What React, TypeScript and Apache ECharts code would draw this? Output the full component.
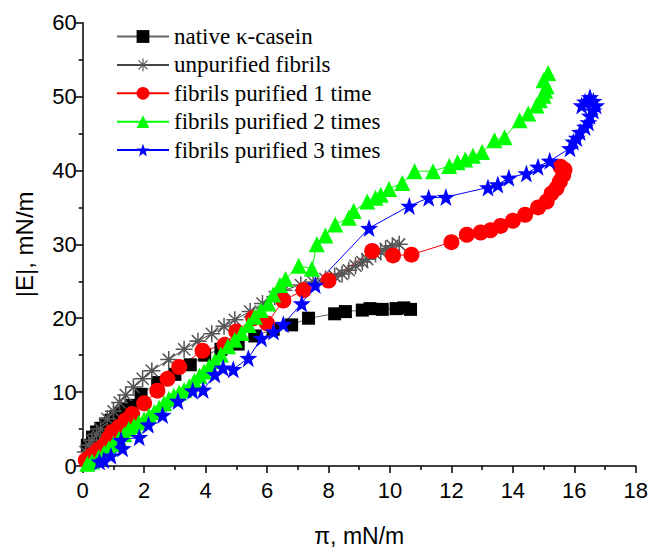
import React, { useEffect, useRef } from "react";
import * as echarts from "echarts";

const seriesNames = [
  "native κ-casein",
  "unpurified fibrils",
  "fibrils purified 1 time",
  "fibrils purified 2 times",
  "fibrils purified 3 times",
];

const nativeCasein: number[][] = [
  [0.15, 2.8], [0.32, 3.9], [0.45, 4.6], [0.59, 5.1], [0.75, 5.7], [0.92, 6.2],
  [1.08, 6.7], [1.24, 7.1], [1.4, 7.7], [1.57, 8.2], [1.9, 9.7], [2.44, 11.3],
  [3.0, 12.4], [3.5, 13.7], [3.97, 15.0], [4.5, 15.8], [5.06, 16.5], [5.6, 17.6],
  [6.2, 18.5], [6.8, 19.1], [7.35, 20.0], [8.2, 20.6], [8.55, 20.9], [9.1, 21.1],
  [9.35, 21.3], [9.75, 21.2], [10.2, 21.3], [10.45, 21.4], [10.67, 21.2],
];

const unpurified: number[][] = [
  [0.09, 1.9], [0.2, 2.8], [0.3, 3.5], [0.45, 4.3], [0.58, 5.0], [0.8, 6.4],
  [1.0, 7.4], [1.2, 8.6], [1.4, 9.6], [1.65, 10.7], [1.95, 11.8], [2.25, 12.9],
  [2.8, 14.4], [3.3, 15.8], [3.75, 16.9], [4.2, 17.9], [4.6, 18.9], [4.95, 19.8],
  [5.45, 20.9], [5.85, 22.0], [6.25, 22.9], [6.55, 23.8], [7.1, 24.5], [7.5, 24.9],
  [7.9, 25.3], [8.2, 25.7], [8.44, 26.0], [8.66, 26.5], [8.88, 27.1], [9.1, 27.6],
  [9.26, 28.0], [9.53, 28.7], [9.7, 29.0], [9.86, 29.4], [10.08, 29.8], [10.3, 30.0],
];

const purified1: number[][] = [
  [0.1, 0.8], [0.3, 1.5], [0.5, 2.2], [0.69, 2.8], [0.85, 3.8], [0.96, 4.6],
  [1.18, 5.3], [1.4, 6.2], [1.61, 7.05], [2.0, 8.5], [2.43, 10.2], [2.76, 11.8],
  [3.14, 13.4], [3.9, 15.6], [4.62, 16.4], [5.0, 18.2], [5.55, 20.0], [6.0, 19.3],
  [6.53, 22.4], [7.19, 23.8], [8.0, 25.1], [9.42, 29.1], [10.1, 28.5], [10.7, 28.6],
  [12.0, 30.3], [12.5, 31.3], [12.95, 31.6], [13.27, 31.9], [13.6, 32.5], [14.0, 33.2],
  [14.4, 34.0], [14.82, 35.0], [15.1, 35.8], [15.26, 36.9], [15.42, 37.6], [15.53, 38.5],
  [15.64, 39.4], [15.68, 40.1], [15.55, 40.5],
];

const purified2: number[][] = [
  [0.15, 0.3], [0.3, 0.6], [0.52, 1.2], [0.7, 1.8], [0.85, 2.4], [1.0, 3.0],
  [1.18, 3.7], [1.35, 4.3], [1.5, 5.0], [1.67, 5.4], [1.83, 5.9], [2.0, 6.3],
  [2.16, 6.8], [2.33, 7.3], [2.49, 7.9], [2.65, 8.5], [2.81, 9.1], [2.97, 9.5],
  [3.14, 9.9], [3.3, 10.3], [3.47, 10.8], [3.63, 11.5], [3.8, 12.2], [3.95, 12.8],
  [4.12, 13.5], [4.3, 14.2], [4.5, 15.1], [4.73, 16.2], [4.95, 17.1], [5.17, 18.0],
  [5.4, 19.1], [5.6, 20.2], [5.8, 21.1], [6.04, 22.0], [6.2, 23.2], [6.42, 24.5],
  [6.6, 25.3], [7.03, 27.1], [7.46, 26.7], [7.62, 30.0], [7.9, 31.2], [8.22, 32.7],
  [8.66, 33.6], [8.82, 34.5], [9.26, 35.8], [9.53, 36.3], [9.7, 36.7], [9.97, 37.5],
  [10.4, 38.3], [10.8, 39.9], [11.4, 39.9], [11.93, 40.6], [12.2, 41.1], [12.45, 41.5],
  [12.7, 42.0], [13.0, 42.5], [13.4, 44.1], [13.73, 44.5], [14.22, 46.8], [14.5, 47.7],
  [14.77, 48.8], [14.88, 49.5], [15.0, 50.1], [15.05, 50.8], [15.1, 51.4], [15.0, 52.2],
  [15.15, 53.2],
];

const purified3: number[][] = [
  [0.55, 0.6], [0.69, 0.8], [0.92, 1.4], [1.3, 2.4], [1.25, 3.5], [1.84, 3.9],
  [2.14, 5.6], [2.6, 6.9], [3.1, 8.8], [3.58, 10.2], [3.92, 10.3], [4.3, 12.4],
  [4.57, 13.3], [4.9, 13.1], [5.39, 14.6], [5.82, 17.3], [6.21, 18.2], [6.53, 19.2],
  [7.13, 22.0], [7.57, 24.5], [9.32, 32.2], [10.63, 35.2], [11.26, 36.3], [11.82, 36.4],
  [13.19, 37.7], [13.51, 38.1], [13.87, 39.0], [14.44, 39.6], [14.82, 40.5], [15.2, 41.3],
  [15.86, 43.0], [15.97, 43.9], [16.08, 44.4], [16.19, 45.2], [16.35, 45.9], [16.46, 46.5],
  [16.51, 47.4], [16.62, 48.1], [16.71, 48.8], [16.62, 49.4], [16.51, 49.9], [16.35, 49.3],
  [16.24, 48.8],
];

const xTicks = { min: 0, max: 18, interval: 2 };
const yTicks = { min: 0, max: 60, interval: 10 };

const ASTERISK =
  "path://M0 45.5 L100 45.5 L100 54.5 L0 54.5 Z M45.5 0 L54.5 0 L54.5 100 L45.5 100 Z " +
  "M11.5 17.8 L17.8 11.5 L88.5 82.2 L82.2 88.5 Z M17.8 88.5 L11.5 82.2 L82.2 11.5 L88.5 17.8 Z";
const STAR =
  "path://M50 0 L61.8 33.8 L97.6 34.5 L69 56.2 L79.4 90.5 L50 70 L20.6 90.5 L31 56.2 L2.4 34.5 L38.2 33.8 Z";

const SANS = "'Liberation Sans', Arial, sans-serif";
const SERIF = "'Liberation Serif', 'Times New Roman', serif";

export default function App() {
  const ref = useRef<HTMLDivElement>(null);
  useEffect(() => {
    if (!ref.current) return;
    const chart = echarts.init(ref.current, undefined, { renderer: "svg" });
    const mk = (
      name: string,
      data: number[][],
      color: string,
      lineColor: string,
      symbol: string,
      size: number
    ) => ({
      name,
      type: "line",
      data,
      symbol,
      symbolSize: size,
      showAllSymbol: true,
      itemStyle: { color, borderWidth: 0 },
      lineStyle: { color: lineColor, width: 1 },
      emphasis: { disabled: true },
    });
    chart.setOption({
      animation: false,
      backgroundColor: "#ffffff",
      grid: { left: 82.7, right: 14, top: 22.7, bottom: 80.3, containLabel: false },
      legend: {
        left: 111,
        top: 20,
        orient: "vertical",
        itemWidth: 52,
        itemHeight: 16,
        itemGap: 5.4,
        data: seriesNames,
        textStyle: { fontFamily: SERIF, fontSize: 23, color: "#000" },
      },
      xAxis: {
        type: "value",
        ...xTicks,
        name: "π, mN/m",
        nameLocation: "middle",
        nameGap: 58,
        nameTextStyle: { fontFamily: SANS, fontSize: 23, color: "#000" },
        axisLine: { show: true, onZero: false, lineStyle: { color: "#000", width: 1.5 } },
        axisTick: { show: true, inside: false, length: 7, lineStyle: { color: "#000", width: 1.5 } },
        minorTick: { show: true, splitNumber: 2, length: 4, lineStyle: { color: "#000", width: 1.5 } },
        axisLabel: { fontFamily: SANS, fontSize: 22, color: "#000", margin: 13 },
        splitLine: { show: false },
      },
      yAxis: {
        type: "value",
        ...yTicks,
        name: "|E|, mN/m",
        nameLocation: "middle",
        nameGap: 46,
        nameTextStyle: { fontFamily: SANS, fontSize: 24, color: "#000" },
        axisLine: { show: true, onZero: false, lineStyle: { color: "#000", width: 1.5 } },
        axisTick: { show: true, inside: false, length: 7, lineStyle: { color: "#000", width: 1.5 } },
        minorTick: { show: true, splitNumber: 2, length: 4, lineStyle: { color: "#000", width: 1.5 } },
        axisLabel: { fontFamily: SANS, fontSize: 22, color: "#000", margin: 6 },
        splitLine: { show: false },
      },
      series: [
        mk(seriesNames[0], nativeCasein, "#000000", "#666666", "rect", 13),
        mk(seriesNames[1], unpurified, "#555555", "#444444", ASTERISK, 17),
        mk(seriesNames[2], purified1, "#ff0000", "#ff0000", "circle", 16),
        mk(seriesNames[3], purified2, "#00ff00", "#00ff00", "triangle", 16),
        mk(seriesNames[4], purified3, "#0000ff", "#0000ff", STAR, 18),
      ],
    });
    return () => chart.dispose();
  }, []);
  return (
    <div
      ref={ref}
      style={{ position: "fixed", left: 0, top: 0, width: 651, height: 552, background: "#fff" }}
    />
  );
}
